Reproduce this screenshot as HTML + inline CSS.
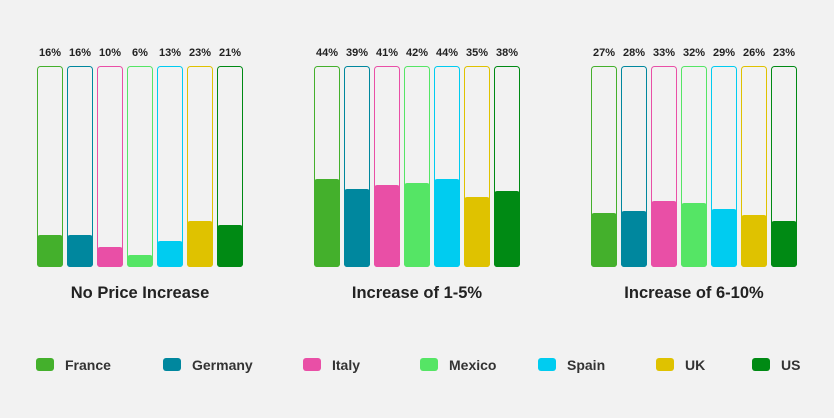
<!DOCTYPE html>
<html><head><meta charset="utf-8"><style>
html,body{margin:0;padding:0;background:#f2f2f2;}
svg{display:block;font-family:"Liberation Sans",sans-serif;}
</style></head><body>
<svg width="834" height="418" viewBox="0 0 834 418">
<rect width="834" height="418" fill="#f2f2f2"/>
<g id="g"></g>
</svg>
<script>
const colors=["#44b02c","#00879e","#e94fa6","#55e565","#00ccf0","#dfc200","#008a14"];
const names=["France","Germany","Italy","Mexico","Spain","UK","US"];
const data=[[16,16,10,6,13,23,21],[44,39,41,42,44,35,38],[27,28,33,32,29,26,23]];
const titles=["No Price Increase","Increase of 1-5%","Increase of 6-10%"];
const starts=[37,314,591];
let s="";
data.forEach((d,gi)=>{
 d.forEach((v,i)=>{
  const x=starts[gi]+i*30, c=colors[i];
  const h=v*2;
  s+=`<rect x="${x+0.5}" y="66.5" width="25" height="200" rx="3" fill="none" stroke="${c}" stroke-width="1"/>`;
  s+=`<rect x="${x}" y="${267-h}" width="26" height="${h}" rx="3" fill="${c}"/>`;
  s+=`<text x="${x+13}" y="56" text-anchor="middle" font-size="11" font-weight="bold" fill="#222">${v}%</text>`;
 });
 s+=`<text x="${starts[gi]+103}" y="298" text-anchor="middle" font-size="16.5" font-weight="bold" fill="#222">${titles[gi]}</text>`;
});
const lx=[36,163,303,420,538,656,752];
names.forEach((n,i)=>{
 s+=`<rect x="${lx[i]}" y="358" width="18" height="13" rx="3" fill="${colors[i]}"/>`;
 s+=`<text x="${lx[i]+29}" y="370" font-size="14" font-weight="bold" fill="#333">${n}</text>`;
});
document.getElementById("g").innerHTML=s;
</script>
</body></html>
